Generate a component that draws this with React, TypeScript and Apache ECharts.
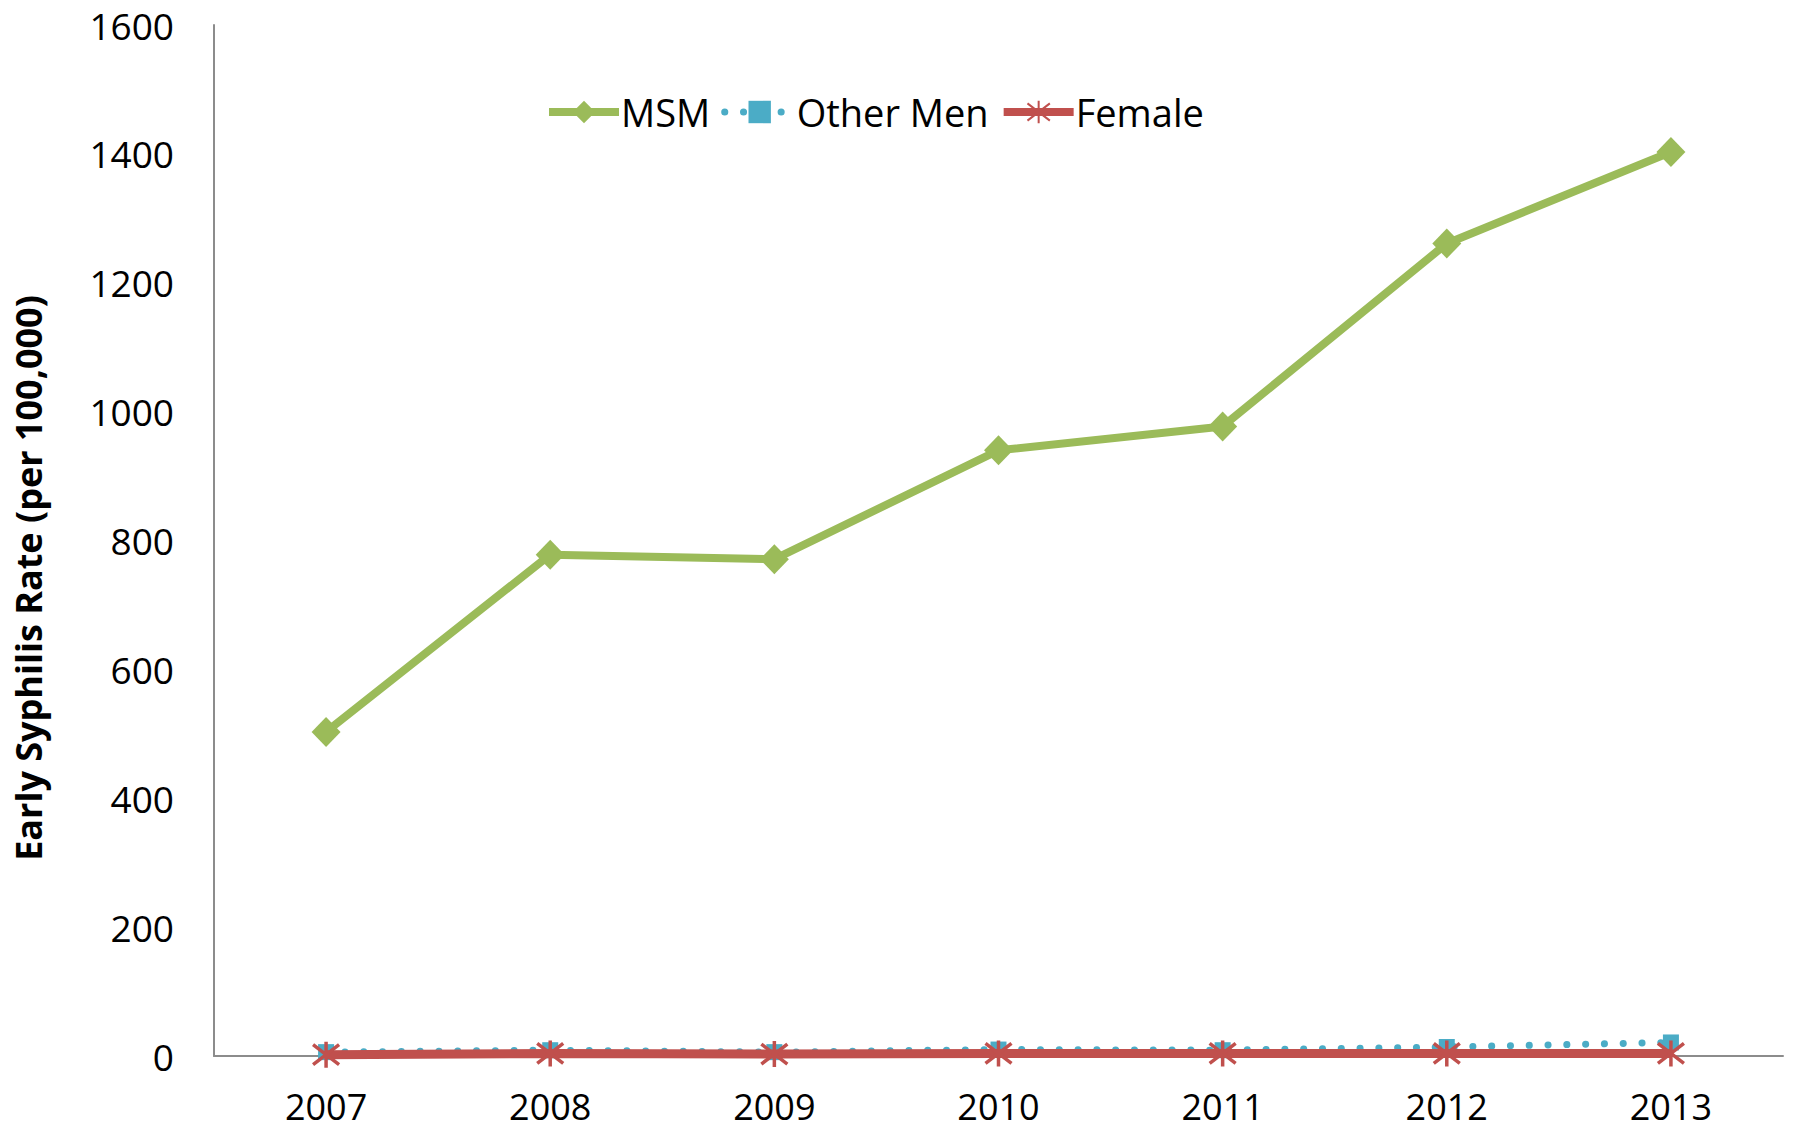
import React, { useEffect, useRef } from "react";
import * as echarts from "echarts";

const years = ["2007", "2008", "2009", "2010", "2011", "2012", "2013"];
const msm = [503, 778, 771, 940, 977, 1261, 1403];
const otherMen = [6, 9, 6, 10, 9, 14, 21];
const female = [2, 4, 3, 4, 4, 4, 4];
const yTitle = "Early Syphilis Rate (per 100,000)";

const FONT = "'Open Sans', 'Liberation Sans', sans-serif";
const ASTERISK = "path://M0,0L10,10M10,0L0,10M5,-1.5L5,11.5";
const GREEN = "#9BBB59";
const BLUE = "#4BACC6";
const RED = "#C0504D";

export default function App() {
  const ref = useRef<HTMLDivElement>(null);
  useEffect(() => {
    if (!ref.current) return;
    const chart = echarts.init(ref.current, undefined, { renderer: "svg" });
    chart.setOption({
      animation: false,
      backgroundColor: "#ffffff",
      textStyle: { fontFamily: FONT },
      grid: { left: 214, top: 25, right: 11, bottom: 75, containLabel: false, outerBoundsMode: "none" },
      legend: {
        left: 540,
        top: 88,
        itemWidth: 70,
        itemHeight: 28,
        itemGap: 11,
        textStyle: { fontSize: 38, color: "#000", fontFamily: FONT, padding: [0, 0, 0, -3] },
        data: [
          { name: "MSM", lineStyle: { width: 8 } },
          { name: "Other Men", lineStyle: { width: 7 } },
          { name: "Female", lineStyle: { width: 8 } },
        ],
      },
      graphic: [
        {
          type: "text",
          x: 28,
          y: 578,
          rotation: Math.PI / 2,
          style: {
            text: yTitle,
            fontSize: 36,
            fontWeight: "bold",
            fill: "#000",
            fontFamily: FONT,
            align: "center",
            verticalAlign: "middle",
          },
        },
      ],
      xAxis: {
        type: "category",
        data: years,
        boundaryGap: true,
        axisLine: { lineStyle: { color: "#8c8c8c", width: 2 } },
        axisTick: { show: false },
        axisLabel: { fontSize: 36, lineHeight: 40, color: "#000", margin: 30, fontFamily: FONT },
      },
      yAxis: {
        type: "value",
        min: 0,
        max: 1600,
        interval: 200,
        axisLine: { show: true, lineStyle: { color: "#8c8c8c", width: 2 } },
        axisTick: { show: false },
        splitLine: { show: false },
        axisLabel: {
          fontSize: 37,
          color: "#000",
          margin: 40,
          fontFamily: FONT,
          formatter: (v: number) => String(v),
        },
      },
      series: [
        {
          name: "MSM",
          type: "line",
          data: msm,
          symbol: "diamond",
          symbolSize: [29, 30],
          lineStyle: { color: GREEN, width: 8 },
          itemStyle: { color: GREEN },
          z: 3,
        },
        {
          name: "Other Men",
          type: "line",
          data: otherMen,
          symbol: "rect",
          symbolSize: 16,
          lineStyle: { color: BLUE, width: 7, type: [0.1, 18.7], cap: "round" },
          itemStyle: { color: BLUE },
          z: 2,
        },
        {
          name: "Female",
          type: "line",
          data: female,
          symbol: ASTERISK,
          symbolSize: 26,
          lineStyle: { color: RED, width: 9 },
          itemStyle: { color: "none", borderColor: RED, borderWidth: 3.5 },
          z: 4,
        },
      ],
    });
    return () => chart.dispose();
  }, []);
  return (
    <div
      ref={ref}
      style={{ position: "fixed", left: 0, top: 0, width: 1794, height: 1131, background: "#fff" }}
    />
  );
}
